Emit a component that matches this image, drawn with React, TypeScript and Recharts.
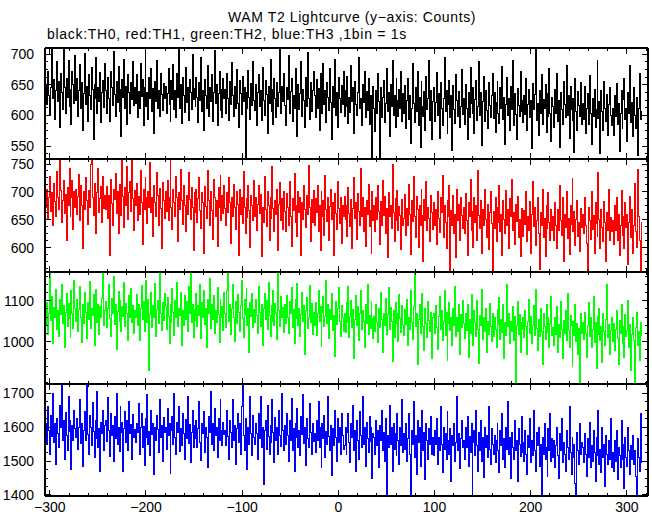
import React from 'react';
import { LineChart, Line, XAxis, YAxis } from 'recharts';

// 1 s bins, first bin at -304 s
const binStart = -304;
const binWidth = 1;

const xTicks = [-300, -280, -260, -240, -220, -200, -180, -160, -140, -120, -100, -80, -60, -40, -20, 0, 20, 40, 60, 80, 100, 120, 140, 160, 180, 200, 220, 240, 260, 280, 300, 320];
const xLabels = [-300, -200, -100, 0, 100, 200, 300];

// TH0 (black)
const th0 = [
  650, 618, 672, 633, 601, 645, 712, 628, 659, 594, 640, 688, 622, 655, 580, 668, 637, 610, 715, 646, 603, 660, 629, 690, 615, 642, 586, 672, 651, 620, 698,
  625, 661, 598, 640, 683, 612, 654, 575, 636, 701, 618, 648, 590, 667, 632, 609, 679, 643, 560, 651, 627, 695, 604, 646, 622, 670, 588, 638, 657, 613, 684,
  640, 603, 662, 628, 590, 671, 645, 616, 705, 634, 598, 656, 621, 680, 607, 643, 565, 659, 630, 692, 611, 648, 585, 666, 637, 604, 653, 626, 688, 617, 645,
  620, 667, 596, 639, 612, 684, 631, 658, 583, 646, 702, 615, 637, 593, 662, 628, 676, 606, 644, 571, 655, 623, 690, 612, 640, 598, 669, 634, 608, 652, 627,
  648, 603, 635, 676, 618, 590, 657, 626, 683, 609, 641, 596, 668, 630, 714, 612, 650, 587, 662, 633, 605, 679, 621, 645, 592, 658, 637, 610, 699, 626, 644,
  615, 662, 630, 588, 653, 624, 695, 607, 641, 576, 659, 633, 612, 681, 598, 646, 622, 667, 590, 638, 706, 619, 651, 584, 636, 672, 608, 643, 597, 661, 628,
  642, 604, 669, 627, 591, 655, 618, 686, 633, 599, 648, 612, 675, 620, 580, 657, 635, 601, 664, 622, 646, 528, 638, 611, 674, 629, 593, 652, 617, 688, 625,
  608, 651, 583, 637, 666, 614, 640, 592, 679, 625, 600, 657, 634, 571, 648, 619, 692, 606, 643, 585, 661, 628, 596, 653, 615, 638, 712, 603, 647, 622, 668,
  617, 584, 645, 626, 698, 603, 639, 660, 590, 632, 611, 677, 621, 565, 650, 609, 636, 688, 598, 643, 624, 580, 662, 615, 703, 628, 594, 654, 606, 640, 671,
  632, 597, 658, 612, 644, 575, 669, 625, 603, 684, 618, 640, 589, 653, 630, 608, 676, 621, 560, 647, 613, 692, 600, 637, 581, 662, 627, 605, 649, 618, 671,
  598, 641, 615, 663, 587, 630, 605, 682, 622, 645, 570, 656, 618, 600, 638, 694, 611, 627, 583, 650, 621, 672, 596, 639, 608, 660, 585, 633, 614, 529, 647,
  612, 574, 640, 603, 668, 622, 529, 645, 596, 630, 657, 588, 619, 676, 607, 638, 565, 651, 615, 689, 600, 633, 580, 660, 624, 598, 642, 611, 671, 590, 636,
  603, 649, 578, 625, 660, 594, 632, 555, 612, 684, 620, 589, 646, 607, 671, 583, 630, 548, 655, 614, 598, 639, 575, 664, 610, 627, 690, 592, 641, 560, 622,
  645, 590, 621, 670, 600, 636, 562, 653, 612, 584, 628, 695, 606, 640, 571, 618, 657, 596, 633, 543, 649, 610, 587, 666, 624, 598, 639, 580, 614, 675, 602,
  628, 585, 650, 611, 560, 637, 596, 679, 620, 603, 645, 570, 626, 657, 592, 615, 688, 600, 638, 551, 622, 663, 590, 641, 608, 579, 654, 617, 596, 632, 668,
  595, 638, 572, 621, 655, 603, 587, 646, 612, 680, 594, 630, 552, 618, 662, 600, 627, 575, 648, 609, 690, 583, 635, 602, 561, 644, 616, 598, 672, 607, 625,
  588, 632, 601, 660, 575, 618, 643, 596, 624, 546, 652, 610, 634, 712, 592, 620, 568, 641, 603, 667, 585, 626, 611, 650, 572, 636, 598, 676, 604, 557, 629,
  614, 580, 642, 603, 668, 590, 625, 548, 637, 609, 585, 655, 618, 596, 681, 600, 632, 563, 647, 610, 592, 628, 540, 660, 606, 575, 639, 617, 598, 653, 586,
  620, 594, 648, 571, 612, 636, 585, 665, 603, 552, 628, 598, 643, 580, 610, 690, 595, 622, 538, 640, 606, 575, 656, 612, 590, 634, 568, 618, 645, 600, 583,
  611, 567, 633, 598, 652, 585, 620, 541, 604, 640, 579, 626, 660, 593, 612, 557, 638, 603, 682, 588, 621, 566, 645, 600, 578, 630, 535, 612, 668, 594, 607,
];

// TH1 (red)
const th1 = [
  672, 705, 651, 690, 728, 664, 698, 640, 715, 683, 656, 737, 690, 668, 762, 702, 645, 684, 720, 661, 695, 612, 708, 676, 742, 655, 689, 720, 633, 700, 671,
  705, 660, 692, 731, 648, 712, 676, 598, 700, 668, 725, 684, 641, 703, 672, 750, 765, 690, 657, 715, 680, 626, 698, 742, 663, 688, 709, 645, 727, 670, 694,
  668, 710, 652, 693, 585, 722, 679, 640, 705, 686, 733, 661, 700, 625, 714, 683, 658, 768, 692, 636, 707, 676, 745, 650, 698, 719, 664, 762, 688, 630, 702,
  676, 715, 648, 692, 660, 738, 681, 606, 704, 669, 725, 690, 643, 700, 672, 752, 662, 689, 620, 711, 680, 655, 734, 693, 640, 706, 670, 598, 716, 684, 652,
  700, 664, 721, 648, 690, 763, 672, 633, 705, 681, 655, 728, 690, 610, 699, 668, 741, 684, 642, 712, 676, 628, 694, 660, 735, 686, 650, 708, 672, 595, 698,
  662, 704, 645, 688, 726, 667, 635, 698, 681, 590, 710, 673, 652, 739, 684, 640, 700, 666, 615, 722, 690, 656, 684, 601, 708, 672, 730, 648, 693, 661, 712,
  670, 640, 698, 662, 725, 681, 608, 690, 655, 713, 672, 632, 700, 678, 586, 705, 660, 690, 643, 736, 671, 625, 688, 654, 711, 667, 600, 694, 676, 648, 720,
  655, 690, 630, 678, 712, 661, 696, 584, 672, 645, 728, 668, 638, 701, 676, 612, 690, 652, 745, 670, 628, 684, 660, 704, 595, 677, 716, 649, 688, 633, 700,
  664, 628, 697, 672, 640, 719, 655, 602, 688, 666, 733, 645, 676, 620, 700, 662, 690, 585, 681, 650, 712, 668, 636, 694, 659, 748, 672, 610, 686, 645, 703,
  640, 688, 662, 712, 628, 675, 595, 700, 655, 684, 621, 730, 668, 646, 690, 612, 673, 705, 650, 680, 586, 697, 661, 632, 718, 670, 644, 689, 608, 676, 655,
  692, 650, 675, 620, 708, 661, 637, 686, 598, 670, 725, 652, 680, 615, 697, 664, 640, 742, 655, 690, 628, 672, 602, 685, 660, 714, 637, 666, 590, 700, 648,
  676, 628, 690, 650, 712, 664, 605, 683, 640, 720, 658, 692, 626, 670, 582, 698, 655, 676, 635, 750, 662, 610, 688, 648, 702, 630, 673, 658, 596, 687, 640,
  652, 695, 622, 670, 640, 713, 660, 588, 684, 646, 727, 655, 618, 692, 668, 600, 676, 640, 705, 658, 575, 686, 648, 718, 630, 672, 653, 610, 694, 662, 632,
  680, 640, 668, 605, 700, 652, 627, 690, 662, 730, 618, 675, 645, 598, 684, 656, 712, 552, 667, 640, 694, 625, 660, 582, 705, 648, 677, 612, 690, 658, 635,
  671, 626, 697, 648, 585, 680, 655, 722, 630, 664, 600, 690, 645, 676, 612, 738, 658, 634, 685, 590, 668, 640, 705, 650, 618, 677, 596, 662, 700, 643, 553,
  665, 634, 690, 610, 672, 645, 712, 628, 660, 585, 684, 650, 625, 703, 640, 668, 598, 688, 655, 722, 630, 662, 605, 678, 646, 692, 618, 650, 583, 670, 641,
  620, 667, 642, 700, 610, 655, 630, 683, 590, 660, 718, 637, 672, 604, 648, 690, 626, 560, 662, 640, 705, 618, 652, 584, 676, 635, 698, 645, 612, 668, 630,
  655, 612, 680, 640, 598, 668, 630, 712, 648, 622, 690, 575, 660, 636, 700, 617, 652, 587, 675, 641, 724, 628, 664, 603, 650, 685, 620, 645, 592, 670, 636,
  660, 625, 690, 640, 608, 553, 672, 648, 615, 700, 632, 657, 590, 680, 644, 620, 735, 650, 598, 668, 636, 610, 682, 645, 575, 662, 630, 705, 612, 654, 628,
  648, 605, 676, 630, 690, 612, 660, 585, 640, 702, 622, 655, 598, 680, 636, 660, 570, 645, 692, 618, 668, 590, 640, 715, 628, 600, 740, 655, 612, 552, 645,
];

// TH2 (green)
const th2 = [
  1040, 1095, 1018, 1070, 1172, 1052, 1110, 995, 1083, 1060, 1128, 1030, 1075, 1012, 1102, 1066, 1140, 1045, 1088, 985, 1072, 1118, 1038, 1094, 1056, 1010, 1125, 1068, 1032, 1150, 1080,
  1050, 1102, 1025, 1078, 1135, 1060, 998, 1090, 1044, 1120, 1072, 1008, 1096, 1055, 1148, 1033, 1082, 1064, 1115, 990, 1070, 1128, 1046, 1092, 1018, 1085, 1058, 1105, 1172, 1040, 1076,
  1098, 1035, 1082, 1140, 1056, 1012, 1105, 1068, 1158, 1042, 1090, 980, 1074, 1122, 1050, 1100, 1026, 1085, 1062, 1145, 1038, 1094, 1070, 1004, 1112, 1058, 1130, 1046, 1088, 1020, 1076,
  1060, 1115, 1040, 1092, 1002, 1080, 1136, 1055, 1098, 1025, 1072, 1150, 1048, 1104, 930, 1066, 1120, 1035, 1088, 1058, 1142, 1012, 1078, 1100, 1045, 1172, 1068, 1028, 1095, 1052, 1118,
  1085, 1030, 1108, 1062, 995, 1092, 1046, 1130, 1072, 1015, 1100, 1058, 1145, 1038, 1082, 1065, 1120, 990, 1076, 1040, 1112, 1055, 1098, 1024, 1135, 1068, 1172, 1048, 1090, 1010, 1078,
  1052, 1118, 1036, 1088, 1064, 1140, 1008, 1095, 1060, 1125, 1042, 1080, 985, 1102, 1070, 1155, 1032, 1090, 1055, 1112, 1020, 1075, 1046, 1132, 1066, 998, 1104, 1058, 1086, 1028, 1120,
  1070, 1035, 1125, 1172, 1050, 1092, 1018, 1080, 1140, 1060, 1000, 1098, 1044, 1115, 1072, 1025, 1088, 1150, 1056, 1010, 1104, 1066, 1130, 1040, 1082, 975, 1095, 1062, 1118, 1034, 1078,
  1048, 1102, 1065, 1020, 1135, 1072, 1038, 1090, 990, 1082, 1118, 1055, 1100, 1030, 1145, 1064, 1012, 1088, 1050, 1125, 1040, 1094, 1068, 1005, 1172, 1076, 1036, 1110, 1058, 1084, 1022,
  1090, 1045, 1112, 1060, 1020, 1098, 1070, 1132, 1035, 1078, 995, 1104, 1056, 1142, 1040, 1082, 1012, 1066, 1120, 1050, 1088, 970, 1075, 1108, 1032, 1060, 1138, 1046, 1094, 1018, 1072,
  1040, 1096, 1015, 1068, 1125, 1050, 1085, 988, 1072, 1110, 1036, 1062, 1150, 1045, 1090, 1008, 1078, 1055, 1118, 1028, 1064, 965, 1098, 1042, 1080, 1132, 1050, 1012, 1088, 1060, 1025,
  1070, 1022, 1095, 1048, 1135, 1010, 1062, 1100, 1035, 1078, 960, 1055, 1112, 1040, 1085, 1002, 1068, 1124, 1030, 1076, 1050, 985, 1090, 1045, 1140, 1018, 1065, 1032, 1098, 1056, 1008,
  1062, 1025, 1090, 1048, 998, 1080, 1035, 1120, 1055, 975, 1070, 1040, 1105, 1018, 1066, 1132, 1030, 1084, 1050, 952, 1075, 1010, 1096, 1044, 1068, 1000, 1115, 1056, 1022, 1088, 1040,
  1015, 1078, 1042, 1102, 990, 1060, 1030, 1125, 1048, 1005, 1085, 1170, 1036, 1070, 945, 1055, 1092, 1020, 1062, 1118, 1038, 978, 1080, 1045, 1010, 1098, 1052, 1026, 1072, 960, 1058,
  1068, 1020, 1088, 1035, 982, 1062, 1110, 1030, 1075, 1002, 1050, 1125, 1016, 1072, 955, 1044, 1095, 1028, 1060, 990, 1082, 1040, 1135, 1012, 1058, 1024, 1090, 970, 1066, 1035, 1100,
  1045, 1008, 1070, 1028, 1092, 962, 1055, 1020, 1115, 1038, 990, 1075, 1048, 1012, 1100, 1030, 948, 1064, 1040, 1128, 1006, 1058, 1025, 1082, 975, 1050, 1018, 1094, 1036, 1000, 1068,
  1012, 1060, 1030, 985, 1078, 1042, 1108, 1005, 1055, 1022, 1090, 958, 1048, 1015, 1140, 1036, 1070, 995, 1050, 1025, 1085, 1002, 1062, 895, 1040, 1098, 1018, 1066, 975, 1046, 1030,
  1058, 1010, 1075, 1036, 968, 1050, 1102, 1020, 1062, 995, 1040, 1088, 1015, 1128, 1032, 978, 1054, 1012, 1080, 1026, 945, 1068, 1038, 1005, 1092, 1022, 1058, 985, 1045, 1110, 1016,
  1035, 992, 1060, 1018, 1085, 975, 1042, 1010, 1098, 1030, 958, 1052, 1020, 1075, 1002, 1118, 1028, 985, 1064, 1040, 940, 1050, 1015, 1090, 1000, 1045, 970, 1032, 895, 1068, 1020,
  1048, 1005, 1072, 1020, 962, 1040, 1095, 1012, 1058, 985, 1030, 1110, 998, 1046, 935, 1062, 1018, 1080, 1002, 1036, 950, 1070, 1025, 990, 1054, 1140, 1010, 1042, 968, 1028, 1060,
  1000, 1045, 978, 1030, 1075, 1008, 945, 1052, 1020, 1090, 995, 1038, 962, 1066, 1012, 1028, 1100, 985, 1042, 930, 1018, 1060, 1002, 895, 1035, 1072, 990, 1025, 955, 1048, 1015,
];

// TH3 (blue)
const th3 = [
  1612, 1548, 1660, 1590, 1520, 1635, 1572, 1700, 1555, 1610, 1490, 1625, 1580, 1540, 1665, 1598, 1728, 1560, 1618, 1505, 1642, 1575, 1530, 1690, 1588, 1620, 1475, 1605, 1562, 1650, 1595,
  1570, 1625, 1535, 1598, 1680, 1552, 1610, 1485, 1590, 1645, 1560, 1728, 1578, 1520, 1635, 1600, 1545, 1672, 1588, 1510, 1620, 1565, 1705, 1540, 1596, 1470, 1615, 1582, 1650, 1530, 1605,
  1620, 1558, 1688, 1590, 1512, 1640, 1575, 1605, 1498, 1630, 1565, 1700, 1548, 1600, 1528, 1660, 1585, 1615, 1470, 1595, 1645, 1555, 1618, 1530, 1675, 1580, 1608, 1505, 1638, 1570, 1592,
  1555, 1610, 1585, 1670, 1520, 1598, 1640, 1540, 1602, 1488, 1625, 1570, 1695, 1548, 1588, 1515, 1650, 1578, 1612, 1460, 1600, 1560, 1635, 1592, 1525, 1680, 1570, 1605, 1500, 1628, 1584,
  1600, 1535, 1655, 1575, 1610, 1462, 1590, 1632, 1550, 1700, 1568, 1520, 1615, 1585, 1660, 1528, 1596, 1545, 1640, 1580, 1505, 1622, 1565, 1690, 1552, 1608, 1495, 1585, 1648, 1540, 1605,
  1565, 1620, 1540, 1596, 1675, 1555, 1502, 1612, 1580, 1645, 1525, 1600, 1570, 1480, 1630, 1585, 1705, 1548, 1610, 1532, 1655, 1575, 1598, 1510, 1625, 1560, 1682, 1590, 1545, 1615, 1578,
  1590, 1545, 1650, 1572, 1505, 1620, 1585, 1540, 1680, 1560, 1605, 1490, 1595, 1640, 1555, 1610, 1520, 1660, 1728, 1575, 1530, 1625, 1565, 1475, 1600, 1548, 1690, 1580, 1515, 1635, 1570,
  1550, 1612, 1580, 1505, 1640, 1565, 1690, 1540, 1598, 1430, 1590, 1620, 1535, 1665, 1572, 1518, 1605, 1555, 1680, 1585, 1495, 1628, 1560, 1600, 1520, 1650, 1575, 1542, 1700, 1590, 1530,
  1605, 1548, 1640, 1575, 1500, 1618, 1560, 1685, 1530, 1595, 1470, 1612, 1568, 1655, 1540, 1590, 1515, 1632, 1578, 1695, 1552, 1600, 1488, 1625, 1565, 1540, 1670, 1585, 1520, 1610, 1558,
  1580, 1525, 1620, 1560, 1675, 1540, 1598, 1480, 1610, 1565, 1635, 1510, 1588, 1550, 1690, 1572, 1530, 1605, 1458, 1595, 1545, 1650, 1568, 1500, 1625, 1555, 1600, 1520, 1640, 1575, 1535,
  1545, 1600, 1520, 1585, 1640, 1555, 1495, 1610, 1570, 1665, 1530, 1590, 1470, 1620, 1560, 1505, 1645, 1575, 1540, 1690, 1550, 1598, 1485, 1615, 1565, 1525, 1630, 1558, 1600, 1450, 1580,
  1570, 1520, 1618, 1545, 1590, 1480, 1605, 1560, 1650, 1530, 1585, 1500, 1625, 1395, 1575, 1540, 1665, 1550, 1598, 1470, 1610, 1535, 1580, 1515, 1640, 1560, 1490, 1600, 1545, 1680, 1525,
  1580, 1535, 1610, 1500, 1565, 1640, 1520, 1395, 1590, 1548, 1675, 1510, 1575, 1460, 1620, 1555, 1600, 1485, 1540, 1650, 1530, 1585, 1445, 1612, 1560, 1505, 1595, 1550, 1630, 1520, 1570,
  1515, 1590, 1548, 1625, 1490, 1570, 1530, 1660, 1550, 1465, 1600, 1535, 1580, 1505, 1645, 1560, 1520, 1595, 1440, 1575, 1545, 1612, 1500, 1555, 1690, 1530, 1580, 1478, 1565, 1620, 1540,
  1560, 1505, 1598, 1540, 1630, 1485, 1572, 1525, 1610, 1395, 1555, 1590, 1515, 1650, 1545, 1470, 1585, 1530, 1620, 1500, 1568, 1452, 1600, 1540, 1575, 1510, 1660, 1535, 1490, 1595, 1550,
  1520, 1575, 1495, 1560, 1610, 1530, 1465, 1590, 1545, 1640, 1505, 1565, 1480, 1600, 1535, 1675, 1518, 1570, 1450, 1585, 1540, 1505, 1620, 1530, 1560, 1440, 1595, 1548, 1512, 1630, 1525,
  1555, 1500, 1590, 1520, 1460, 1575, 1540, 1625, 1495, 1560, 1515, 1650, 1530, 1470, 1585, 1545, 1600, 1485, 1550, 1395, 1570, 1520, 1610, 1505, 1540, 1455, 1595, 1530, 1640, 1500, 1565,
  1510, 1560, 1480, 1545, 1600, 1515, 1450, 1580, 1530, 1625, 1495, 1555, 1520, 1470, 1590, 1540, 1505, 1660, 1525, 1460, 1570, 1510, 1548, 1435, 1395, 1585, 1530, 1490, 1610, 1520, 1555,
  1540, 1495, 1580, 1520, 1455, 1565, 1510, 1615, 1480, 1545, 1500, 1590, 1525, 1440, 1570, 1515, 1650, 1490, 1535, 1465, 1600, 1510, 1548, 1425, 1575, 1520, 1490, 1560, 1505, 1625, 1480,
  1525, 1470, 1560, 1500, 1590, 1445, 1540, 1515, 1480, 1620, 1505, 1550, 1420, 1570, 1510, 1485, 1600, 1530, 1460, 1545, 1505, 1575, 1490, 1530, 1455, 1395, 1565, 1510, 1470, 1640, 1495,
];

const ticks0 = [537.5, 550, 562.5, 575, 587.5, 600, 612.5, 625, 637.5, 650, 662.5, 675, 687.5, 700];
const labels0 = [550, 600, 650, 700];
const ticks1 = [562.5, 575, 587.5, 600, 612.5, 625, 637.5, 650, 662.5, 675, 687.5, 700, 712.5, 725, 737.5, 750];
const labels1 = [600, 650, 700, 750];
const ticks2 = [900, 920, 940, 960, 980, 1000, 1020, 1040, 1060, 1080, 1100, 1120, 1140, 1160];
const labels2 = [1000, 1100];
const ticks3 = [1400, 1425, 1450, 1475, 1500, 1525, 1550, 1575, 1600, 1625, 1650, 1675, 1700, 1725];
const labels3 = [1400, 1500, 1600, 1700];

const FONT = '"Liberation Sans", Arial, Helvetica, sans-serif';
const pad = 4;

const panels = [
  { values: th0, color: '#000000', domain: [529, 710], ticks: ticks0, labels: labels0, top: 48, h: 111 },
  { values: th1, color: '#ff0000', domain: [556, 759], ticks: ticks1, labels: labels1, top: 159, h: 113 },
  { values: th2, color: '#00ff00', domain: [897, 1170], ticks: ticks2, labels: labels2, top: 272, h: 112 },
  { values: th3, color: '#0000ff', domain: [1397, 1727], ticks: ticks3, labels: labels3, top: 384, h: 112 },
];

const fmt = (v: number) => (v < 0 ? '\u2212' + Math.abs(v) : String(v));

function XTick(props: any) {
  const x = Number(props.x);
  const y = Number(props.y);
  const { payload, side, showLabel } = props;
  const major = payload.value % 100 === 0;
  const len = major ? 6 : 3;
  const dir = side === 'top' ? 1 : -1;
  return (
    <g>
      <line x1={x} y1={y} x2={x} y2={y + dir * len} stroke="#000" strokeWidth={1} shapeRendering="crispEdges" />
      {showLabel && xLabels.includes(payload.value) && (
        <text x={x} y={y + 16} textAnchor="middle" fontSize={14} fill="#000" fontFamily={FONT}>
          {fmt(payload.value)}
        </text>
      )}
    </g>
  );
}

function YTick(props: any) {
  const x = Number(props.x);
  const y = Number(props.y);
  const { payload, side, labels } = props;
  const major = labels.includes(payload.value);
  const len = major ? 6 : 3;
  const dir = side === 'left' ? 1 : -1;
  return (
    <g>
      <line x1={x} y1={y} x2={x + dir * len} y2={y} stroke="#000" strokeWidth={1} shapeRendering="crispEdges" />
      {side === 'left' && major && (
        <text x={x - 11} y={y + 5} textAnchor="end" fontSize={14} fill="#000" fontFamily={FONT}>
          {payload.value}
        </text>
      )}
    </g>
  );
}

function Panel({ p, last }: { p: (typeof panels)[number]; last: boolean }) {
  const data = p.values.map((v, i) => ({ t: binStart + i * binWidth, v }));
  const bottomH = last ? 22 : 1;
  const axisLine = { stroke: '#000', strokeWidth: 2, shapeRendering: 'crispEdges' };
  return (
    <div style={{ position: 'absolute', left: 0, top: p.top - pad }}>
      <LineChart
        width={652}
        height={p.h + pad * 2 + (last ? 21 : 0)}
        data={data}
        margin={{ top: pad - 1, right: 0, bottom: pad - 1, left: 0 }}
      >
        <XAxis
          xAxisId="b"
          dataKey="t"
          type="number"
          domain={[-305, 322]}
          allowDataOverflow
          ticks={xTicks}
          interval={0}
          height={bottomH}
          tickSize={0}
          tickMargin={0}
          tickLine={false}
          axisLine={axisLine}
          tick={(tp: any) => <XTick {...tp} side="bottom" showLabel={last} />}
        />
        <XAxis
          xAxisId="top"
          orientation="top"
          dataKey="t"
          type="number"
          domain={[-305, 322]}
          allowDataOverflow
          ticks={xTicks}
          interval={0}
          height={1}
          tickSize={0}
          tickMargin={0}
          tickLine={false}
          axisLine={axisLine}
          tick={(tp: any) => <XTick {...tp} side="top" showLabel={false} />}
        />
        <YAxis
          yAxisId="l"
          type="number"
          domain={p.domain}
          allowDataOverflow
          ticks={p.ticks}
          interval={0}
          width={45}
          tickSize={0}
          tickMargin={0}
          tickLine={false}
          axisLine={axisLine}
          tick={(tp: any) => <YTick {...tp} side="left" labels={p.labels} />}
        />
        <YAxis
          yAxisId="r"
          orientation="right"
          type="number"
          domain={p.domain}
          allowDataOverflow
          ticks={p.ticks}
          interval={0}
          width={4}
          tickSize={0}
          tickMargin={0}
          tickLine={false}
          axisLine={axisLine}
          tick={(tp: any) => <YTick {...tp} side="right" labels={p.labels} />}
        />
        <Line
          xAxisId="b"
          yAxisId="l"
          type="stepAfter"
          dataKey="v"
          stroke={p.color}
          strokeWidth={1}
          shapeRendering="crispEdges"
          dot={false}
          isAnimationActive={false}
        />
      </LineChart>
    </div>
  );
}

export default function App() {
  return (
    <div style={{ position: 'absolute', left: 0, top: 0, width: 652, height: 515, background: '#fff', fontFamily: FONT }}>
      <div style={{ position: 'absolute', left: 352, top: 9, transform: 'translateX(-50%)', fontSize: 14, letterSpacing: 0.6, whiteSpace: 'nowrap' }}>
        WAM T2 Lightcurve (y{'\u2212'}axis: Counts)
      </div>
      <div style={{ position: 'absolute', left: 47, top: 26, fontSize: 14, letterSpacing: 0.7, whiteSpace: 'nowrap' }}>
        black:TH0, red:TH1, green:TH2, blue:TH3 ,1bin = 1s
      </div>
      {panels.map((p, i) => (
        <Panel key={i} p={p} last={i === panels.length - 1} />
      ))}
    </div>
  );
}
